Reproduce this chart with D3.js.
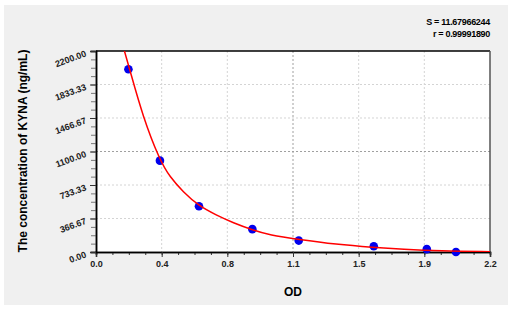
<!DOCTYPE html>
<html>
<head>
<meta charset="utf-8">
<script src="https://cdn.jsdelivr.net/npm/d3@7"></script>
<style>
  html, body { margin: 0; padding: 0; background: #fff; }
  svg { display: block; font-family: "Liberation Sans", Arial, sans-serif; }
</style>
</head>
<body>
<svg id="chart"></svg>
<script>
// standard points (OD vs concentration)
const odValues = [0.181, 0.357, 0.575, 0.873, 1.132, 1.551, 1.847, 2.010];
const concValues = [2000, 1000, 500, 250, 125, 62.5, 31.25, 0];

// fitted curve
const curveOD = [0.150, 0.188, 0.262, 0.356, 0.412, 0.486, 0.575, 0.672, 0.765, 0.877, 0.970, 1.128, 1.342, 1.547, 1.714, 1.919, 2.200];
const curveConc = [2260, 2000, 1479, 1005, 823, 659, 503, 404, 320, 240, 186, 139, 84, 51, 30, 11, 3];

const xTicks = [0, 0.3667, 0.7333, 1.1, 1.4667, 1.8333, 2.2];
const xTickLabels = ['0.0', '0.4', '0.8', '1.1', '1.5', '1.9', '2.2'];
const yTicks = [0, 366.67, 733.33, 1100, 1466.67, 1833.33, 2200];
const yTickLabels = ['0.00', '366.67', '733.33', '1100.00', '1466.67', '1833.33', '2200.00'];

const statS = 'S = 11.67966244';
const statR = 'r = 0.99991890';

const W = 511, H = 312;
const margin = { top: 51, right: 21, bottom: 60, left: 96 };
const width = W - margin.left - margin.right;
const height = H - margin.top - margin.bottom;

const svg = d3.select('#chart').attr('width', W).attr('height', H);

// grey panel
svg.append('rect')
  .attr('x', 4).attr('y', 5).attr('width', 504).attr('height', 300)
  .attr('fill', '#f0f0f0');

const g = svg.append('g').attr('transform', `translate(${margin.left},${margin.top})`);

const x = d3.scaleLinear().domain([0, 2.2]).range([0, width]);
const y = d3.scaleLinear().domain([0, 2200]).range([height, 0]);

g.append('rect').attr('width', width).attr('height', height).attr('fill', '#fff');

// grid
g.selectAll('.vgrid').data(xTicks.slice(1, -1)).enter().append('line')
  .attr('x1', d => x(d)).attr('x2', d => x(d))
  .attr('y1', 0).attr('y2', height)
  .attr('stroke', d => d === 1.1 ? '#a0a0a0' : '#d4d4d4')
  .attr('stroke-dasharray', '2,2');
g.selectAll('.hgrid').data(yTicks.slice(1, -1)).enter().append('line')
  .attr('y1', d => y(d)).attr('y2', d => y(d))
  .attr('x1', 0).attr('x2', width)
  .attr('stroke', d => d === 1100 ? '#a0a0a0' : '#d4d4d4')
  .attr('stroke-dasharray', '2,2');

// frame
g.append('line').attr('x1', 0).attr('x2', width).attr('y1', 0).attr('y2', 0)
  .attr('stroke', '#000').attr('stroke-width', 1.5);
g.append('line').attr('x1', width).attr('x2', width).attr('y1', 0).attr('y2', height)
  .attr('stroke', '#555').attr('stroke-width', 1.5);

// minor ticks
const xMinor = d3.range(0, 25).map(i => i * 2.2 / 24);
const yMinor = d3.range(0, 25).map(i => i * 2200 / 24);

const xAxis = g.append('g').attr('transform', `translate(0,${height})`)
  .call(d3.axisBottom(x).tickValues(xMinor).tickSize(3).tickFormat(''));
const xMajor = g.append('g').attr('transform', `translate(0,${height})`)
  .call(d3.axisBottom(x).tickValues(xTicks).tickSize(5).tickPadding(4)
    .tickFormat((d, i) => xTickLabels[i]));
const yAxis = g.append('g')
  .call(d3.axisLeft(y).tickValues(yMinor).tickSize(5).tickFormat(''));
const yMajor = g.append('g')
  .call(d3.axisLeft(y).tickValues(yTicks).tickSize(6).tickFormat(''));

[xAxis, xMajor, yAxis, yMajor].forEach(a => {
  a.select('.domain').attr('stroke', '#000').attr('stroke-width', 1.5);
  a.selectAll('line').attr('stroke', '#333');
});
yAxis.selectAll('line').attr('stroke', '#777');

xMajor.selectAll('text')
  .attr('font-size', 9).attr('font-weight', 'bold').attr('fill', '#222')
  .attr('font-family', '"Liberation Sans", Arial, sans-serif');

// rotated y labels
g.selectAll('.ylab').data(yTicks).enter().append('text')
  .attr('transform', d => `translate(-9,${y(d) + 5}) rotate(-20)`)
  .attr('text-anchor', 'end')
  .attr('font-size', 9).attr('font-weight', 'bold').attr('fill', '#222')
  .text((d, i) => yTickLabels[i]);

// points
const pts = odValues.map((d, i) => ({ od: d, c: concValues[i] }));
g.selectAll('circle').data(pts).enter().append('circle')
  .attr('cx', d => x(d.od)).attr('cy', d => y(d.c))
  .attr('r', 4.3).attr('fill', '#0000ee');

// fitted curve
g.append('clipPath').attr('id', 'clip').append('rect')
  .attr('width', width).attr('height', height);
const line = d3.line().x(d => x(d[0])).y(d => y(d[1])).curve(d3.curveBasis);
g.append('path')
  .datum(curveOD.map((d, i) => [d, curveConc[i]]))
  .attr('d', line)
  .attr('clip-path', 'url(#clip)')
  .attr('fill', 'none').attr('stroke', '#ff0000').attr('stroke-width', 1.5);

// titles
svg.append('text')
  .attr('x', margin.left + width / 2).attr('y', 296)
  .attr('text-anchor', 'middle').attr('font-size', 12).attr('font-weight', 'bold')
  .text('OD');
svg.append('text')
  .attr('transform', `translate(27,${151}) rotate(-90)`)
  .attr('text-anchor', 'middle').attr('font-size', 12).attr('font-weight', 'bold')
  .text('The concentration of KYNA (ng/mL)');

svg.append('text')
  .attr('x', 490).attr('y', 25).attr('text-anchor', 'end')
  .attr('font-size', 9).attr('font-weight', 'bold').attr('letter-spacing', -0.3)
  .text(statS);
svg.append('text')
  .attr('x', 490).attr('y', 37).attr('text-anchor', 'end')
  .attr('font-size', 9).attr('font-weight', 'bold').attr('letter-spacing', -0.3)
  .text(statR);
</script>
</body>
</html>
